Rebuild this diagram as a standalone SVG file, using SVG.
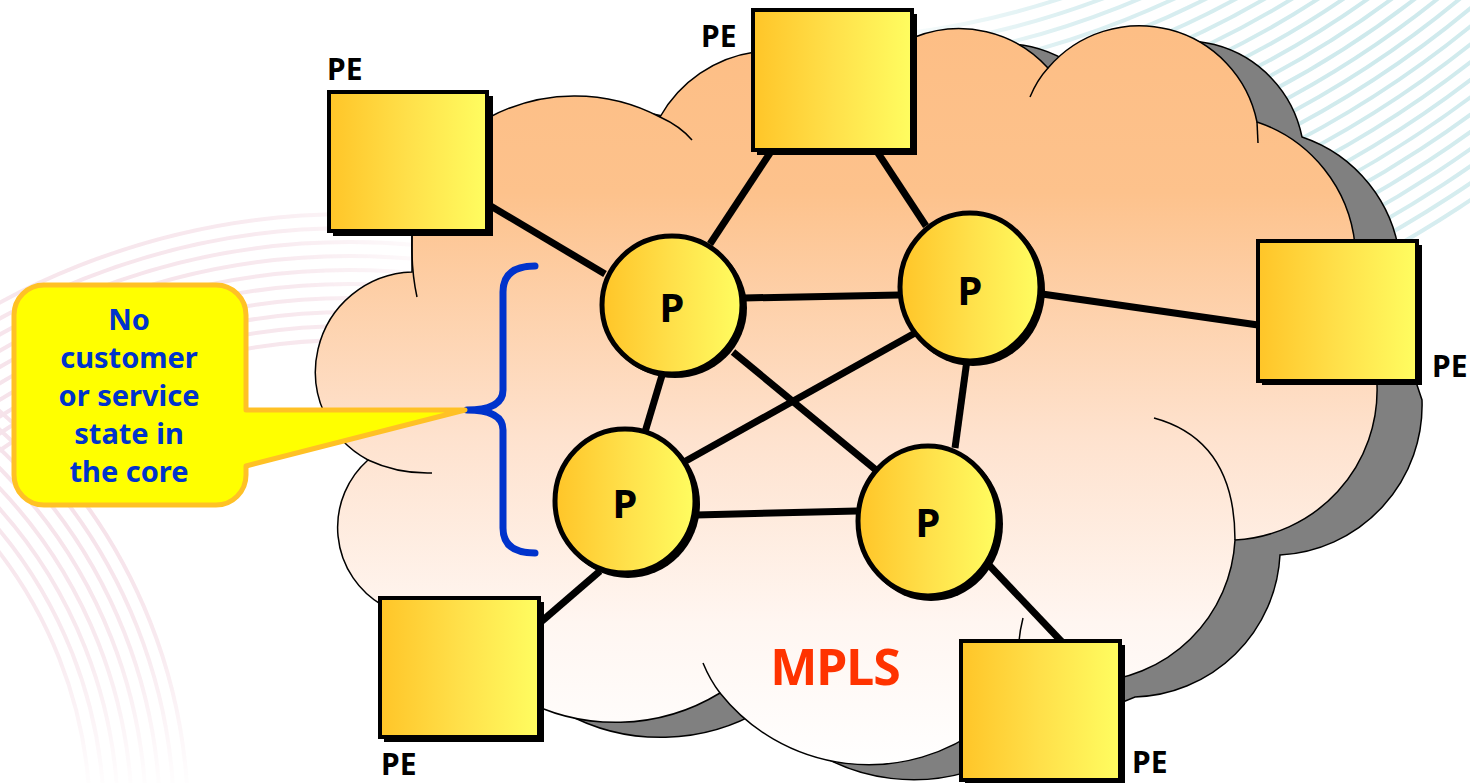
<svg xmlns="http://www.w3.org/2000/svg" width="1470" height="783" viewBox="0 0 1470 783">
  <defs>
    <linearGradient id="gold" x1="0" y1="0" x2="1" y2="0">
      <stop offset="0" stop-color="#FFC528"/>
      <stop offset="0.5" stop-color="#FFE04A"/>
      <stop offset="1" stop-color="#FFFD60"/>
    </linearGradient>
    <linearGradient id="cloudFill" gradientUnits="userSpaceOnUse" x1="0" y1="30" x2="0" y2="770">
      <stop offset="0" stop-color="#FDBE85"/>
      <stop offset="0.22" stop-color="#FDC28C"/>
      <stop offset="0.55" stop-color="#FEE2CE"/>
      <stop offset="0.8" stop-color="#FFF6F1"/>
      <stop offset="1" stop-color="#FFFFFF"/>
    </linearGradient>
    <radialGradient id="fadeC" gradientUnits="userSpaceOnUse" cx="1380" cy="40" r="520">
      <stop offset="0" stop-color="#fff"/>
      <stop offset="0.6" stop-color="#fff" stop-opacity="0.7"/>
      <stop offset="1" stop-color="#fff" stop-opacity="0"/>
    </radialGradient>
    <radialGradient id="fadeP" gradientUnits="userSpaceOnUse" cx="120" cy="420" r="380">
      <stop offset="0" stop-color="#fff"/>
      <stop offset="0.6" stop-color="#fff" stop-opacity="0.6"/>
      <stop offset="1" stop-color="#fff" stop-opacity="0"/>
    </radialGradient>
    <mask id="maskC"><rect x="0" y="0" width="1470" height="783" fill="url(#fadeC)"/></mask>
    <mask id="maskP"><rect x="0" y="0" width="1470" height="783" fill="url(#fadeP)"/></mask>
    <style>
      .pe { fill: url(#gold); stroke: #000; stroke-width: 4; }
      .shadow { fill: #000; }
      .pnode { fill: url(#gold); stroke: #000; stroke-width: 5; }
      .lbl { font-family: "Noto Sans", "DejaVu Sans", sans-serif; font-weight: bold; font-size: 30px; fill: #000; }
      .plbl { font-family: "Noto Sans", "DejaVu Sans", sans-serif; font-weight: bold; font-size: 40px; fill: #000; text-anchor: middle; }
      .link { stroke: #000; stroke-width: 7; fill: none; }
      .inner { fill: none; stroke: #000; stroke-width: 1.5; }
      .callText { font-family: "Noto Sans", "DejaVu Sans", sans-serif; font-weight: bold; font-size: 29px; fill: #0033CC; text-anchor: middle; }
      .cyan { fill: none; stroke: #CDE9EC; stroke-width: 4; }
      .pink { fill: none; stroke: #F4DCE5; stroke-width: 4; }
    </style>
    <path id="cloudPath" d="M412,272 L412,236 L420,200 L488,118 A182,182 0 0 1 660,117 A130,130 0 0 1 755,52 L800,40 L915,37 A120,120 0 0 1 1048,68 A120,120 0 0 1 1257,122 A145,145 0 0 1 1355,245 L1372,370 L1377,385 A150,150 0 0 1 1235,540 A150,150 0 0 1 1090,682 L985,725 A190,190 0 0 1 720,693 A200,200 0 0 1 520,698 L400,620 L382,605 A90,90 0 0 1 368,460 A100,100 0 0 1 412,272 Z"/>
  </defs>

  <rect x="0" y="0" width="1470" height="783" fill="#FFFFFF"/>

  <!-- background swooshes -->
  <g id="background-decor">
    <g mask="url(#maskC)">
      <circle class="cyan" cx="800" cy="-800" r="840"/>
      <circle class="cyan" cx="800" cy="-800" r="854"/>
      <circle class="cyan" cx="800" cy="-800" r="868"/>
      <circle class="cyan" cx="800" cy="-800" r="882"/>
      <circle class="cyan" cx="800" cy="-800" r="896"/>
      <circle class="cyan" cx="800" cy="-800" r="910"/>
      <circle class="cyan" cx="800" cy="-800" r="924"/>
      <circle class="cyan" cx="800" cy="-800" r="938"/>
      <circle class="cyan" cx="800" cy="-800" r="952"/>
      <circle class="cyan" cx="800" cy="-800" r="966"/>
      <circle class="cyan" cx="800" cy="-800" r="980"/>
      <circle class="cyan" cx="800" cy="-800" r="994"/>
      <circle class="cyan" cx="800" cy="-800" r="1008"/>
      <circle class="cyan" cx="800" cy="-800" r="1022"/>
      <circle class="cyan" cx="800" cy="-800" r="1036"/>
      <circle class="cyan" cx="800" cy="-800" r="1050"/>
      <circle class="cyan" cx="800" cy="-800" r="1064"/>
      <circle class="cyan" cx="800" cy="-800" r="1078"/>
      <circle class="cyan" cx="800" cy="-800" r="1092"/>
      <circle class="cyan" cx="800" cy="-800" r="1106"/>
      <circle class="cyan" cx="800" cy="-800" r="1120"/>
      <circle class="cyan" cx="800" cy="-800" r="1134"/>
      <circle class="cyan" cx="800" cy="-800" r="1148"/>
      <circle class="cyan" cx="800" cy="-800" r="1162"/>
      <circle class="cyan" cx="800" cy="-800" r="1176"/>
      <circle class="cyan" cx="800" cy="-800" r="1190"/>
      <circle class="cyan" cx="800" cy="-800" r="1204"/>
    </g>
    <g mask="url(#maskP)">
      <circle class="pink" cx="350" cy="950" r="610"/>
      <circle class="pink" cx="350" cy="950" r="624"/>
      <circle class="pink" cx="350" cy="950" r="638"/>
      <circle class="pink" cx="350" cy="950" r="652"/>
      <circle class="pink" cx="350" cy="950" r="666"/>
      <circle class="pink" cx="350" cy="950" r="680"/>
      <circle class="pink" cx="350" cy="950" r="694"/>
      <circle class="pink" cx="350" cy="950" r="708"/>
      <circle class="pink" cx="350" cy="950" r="722"/>
      <circle class="pink" cx="350" cy="950" r="736"/>
      <circle class="pink" cx="-350" cy="820" r="440"/>
      <circle class="pink" cx="-350" cy="820" r="454"/>
      <circle class="pink" cx="-350" cy="820" r="468"/>
      <circle class="pink" cx="-350" cy="820" r="482"/>
      <circle class="pink" cx="-350" cy="820" r="496"/>
      <circle class="pink" cx="-350" cy="820" r="510"/>
      <circle class="pink" cx="-350" cy="820" r="524"/>
      <circle class="pink" cx="-350" cy="820" r="538"/>
    </g>
  </g>

  <!-- MPLS cloud -->
  <g id="cloud">
    <use href="#cloudPath" transform="translate(45,15)" fill="#808080" stroke="#000" stroke-width="1.5"/>
    <use href="#cloudPath" fill="url(#cloudFill)" stroke="#000" stroke-width="1.5"/>
    <path class="inner" d="M660,117 Q680,126 692,140"/>
    <path class="inner" d="M412,236 Q411,270 417,297"/>
    <path class="inner" d="M368,460 Q398,474 432,473"/>
    <path class="inner" d="M1030,97 Q1037,80 1048,68"/>
    <path class="inner" d="M1257,122 L1258,143"/>
    <path class="inner" d="M1154,418 Q1235,440 1235,540"/>
    <path class="inner" d="M703,663 Q710,680 720,693"/>
    <path class="inner" d="M1023,618 Q1020,630 1019,641"/>
  </g>

  <g id="mpls-label">
    <text x="835" y="685" font-family="'Noto Sans', 'DejaVu Sans', sans-serif" font-weight="bold" font-size="50" fill="#FF3300" text-anchor="middle" letter-spacing="-1">MPLS</text>
  </g>

  <!-- connectors -->
  <g id="connectors">
    <line class="link" x1="489" y1="205" x2="605" y2="274"/>
    <line class="link" x1="772" y1="150" x2="710" y2="244"/>
    <line class="link" x1="876" y1="150" x2="926" y2="226"/>
    <line class="link" x1="744" y1="298" x2="899" y2="295"/>
    <line class="link" x1="1042" y1="294" x2="1258" y2="325"/>
    <line class="link" x1="663" y1="372" x2="645" y2="432"/>
    <line class="link" x1="733" y1="352" x2="876" y2="470"/>
    <line class="link" x1="915" y1="333" x2="684" y2="462"/>
    <line class="link" x1="967" y1="360" x2="955" y2="448"/>
    <line class="link" x1="696" y1="515" x2="857" y2="511"/>
    <line class="link" x1="600" y1="571" x2="542" y2="621"/>
    <line class="link" x1="988" y1="564" x2="1062" y2="642"/>
  </g>

  <!-- PE nodes -->
  <g id="pe-left-top">
    <rect class="shadow" x="333" y="96" width="160" height="140"/>
    <rect class="pe" x="329" y="92" width="158" height="139"/>
    <text class="lbl" x="327" y="80">PE</text>
  </g>
  <g id="pe-top">
    <rect class="shadow" x="757" y="14" width="160" height="141"/>
    <rect class="pe" x="753" y="10" width="159" height="140"/>
    <text class="lbl" x="701" y="47">PE</text>
  </g>
  <g id="pe-right">
    <rect class="shadow" x="1262" y="245" width="160" height="140"/>
    <rect class="pe" x="1258" y="241" width="159" height="140"/>
    <text class="lbl" x="1432" y="377">PE</text>
  </g>
  <g id="pe-bottom-left">
    <rect class="shadow" x="384" y="602" width="160" height="140"/>
    <rect class="pe" x="380" y="598" width="159" height="139"/>
    <text class="lbl" x="381" y="775">PE</text>
  </g>
  <g id="pe-bottom-right">
    <rect class="shadow" x="965" y="645" width="160" height="140"/>
    <rect class="pe" x="961" y="641" width="159" height="139"/>
    <text class="lbl" x="1132" y="773">PE</text>
  </g>

  <!-- P nodes -->
  <g id="p-1">
    <ellipse class="shadow" cx="675" cy="308" rx="72" ry="70"/>
    <ellipse class="pnode" cx="672" cy="305" rx="70" ry="69"/>
    <text class="plbl" x="672" y="322">P</text>
  </g>
  <g id="p-2">
    <ellipse class="shadow" cx="973" cy="290" rx="72" ry="76"/>
    <ellipse class="pnode" cx="970" cy="287" rx="70" ry="74"/>
    <text class="plbl" x="970" y="305">P</text>
  </g>
  <g id="p-3">
    <ellipse class="shadow" cx="628" cy="504" rx="72" ry="74"/>
    <ellipse class="pnode" cx="625" cy="501" rx="70" ry="72"/>
    <text class="plbl" x="625" y="518">P</text>
  </g>
  <g id="p-4">
    <ellipse class="shadow" cx="931" cy="524" rx="72" ry="77"/>
    <ellipse class="pnode" cx="928" cy="521" rx="70" ry="75"/>
    <text class="plbl" x="928" y="537">P</text>
  </g>

  <!-- brace -->
  <g id="brace">
    <path d="M535,266 Q503,266 503,292 L503,390 Q503,410 467,410 Q503,410 503,430 L503,528 Q503,553 535,553" fill="none" stroke="#0033CC" stroke-width="7" stroke-linecap="round" stroke-linejoin="round"/>
  </g>

  <!-- callout -->
  <g id="callout">
    <path d="M44,285 H216 A30,30 0 0 1 246,315 V410 L465,410 L246,466 V475 A30,30 0 0 1 216,505 H44 A30,30 0 0 1 14,475 V315 A30,30 0 0 1 44,285 Z" fill="#FFFF00" stroke="#FFC125" stroke-width="5" stroke-linejoin="round"/>
    <text class="callText" x="129" y="330">No</text>
    <text class="callText" x="129" y="368">customer</text>
    <text class="callText" x="129" y="406">or service</text>
    <text class="callText" x="129" y="444">state in</text>
    <text class="callText" x="129" y="482">the core</text>
  </g>
</svg>
